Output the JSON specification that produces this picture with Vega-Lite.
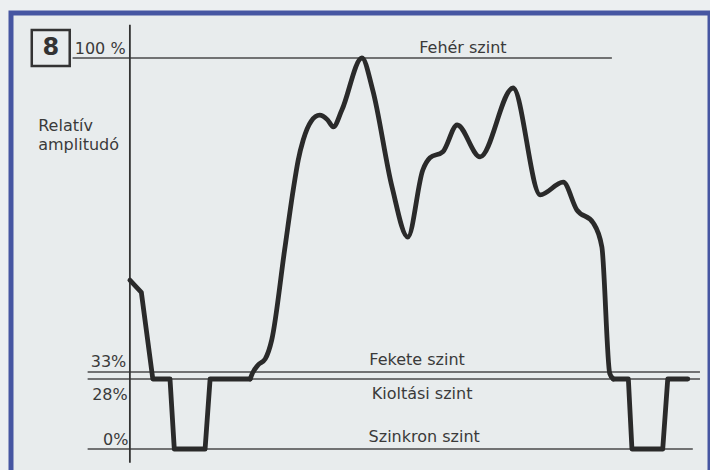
{
  "$schema": "https://vega.github.io/schema/vega-lite/v6.json",
  "autosize": {"type": "none"},
  "padding": {"left": 11, "top": 13, "right": 0, "bottom": 0},
  "width": 699,
  "height": 470,
  "background": "#eceff1",
  "config": {
    "view": {"stroke": "#4656a2", "strokeWidth": 5, "fill": "#e8eced"},
    "text": {"font": "DejaVu Sans", "fontSize": 16, "color": "#3a3a3a"}
  },
  "datasets": {
    "pulses": [
      {"t": 0, "v": 52.6, "seg": "A"},
      {"t": 1.6, "v": 50.0, "seg": "A"},
      {"t": 3.2, "v": 28, "seg": "A"},
      {"t": 5.6, "v": 28, "seg": "A"},
      {"t": 6.2, "v": 0, "seg": "A"},
      {"t": 10.5, "v": 0, "seg": "A"},
      {"t": 11.2, "v": 28, "seg": "A"},
      {"t": 16.8, "v": 28, "seg": "A"},
      {"t": 67.5, "v": 28, "seg": "C"},
      {"t": 69.6, "v": 28, "seg": "C"},
      {"t": 70.1, "v": 0, "seg": "C"},
      {"t": 74.4, "v": 0, "seg": "C"},
      {"t": 75.1, "v": 28, "seg": "C"},
      {"t": 77.9, "v": 28, "seg": "C"}
    ],
    "video": [
      {"t": 16.8, "v": 28},
      {"t": 17.1, "v": 32},
      {"t": 17.9, "v": 34.5},
      {"t": 18.9, "v": 35.8},
      {"t": 19.8, "v": 39.8},
      {"t": 21.6, "v": 59.0},
      {"t": 22.8, "v": 71.8},
      {"t": 23.5, "v": 78.2},
      {"t": 24.2, "v": 82.5},
      {"t": 25.3, "v": 86.5},
      {"t": 26.5, "v": 87.8},
      {"t": 27.6, "v": 86.8},
      {"t": 28.4, "v": 85.3},
      {"t": 29.6, "v": 88.9},
      {"t": 32.4, "v": 100},
      {"t": 33.9, "v": 93.2},
      {"t": 36.6, "v": 72.5},
      {"t": 38.8, "v": 61.8},
      {"t": 40.9, "v": 76.1},
      {"t": 41.9, "v": 78.7},
      {"t": 43.7, "v": 80.0},
      {"t": 45.7, "v": 85.7},
      {"t": 48.9, "v": 78.9},
      {"t": 53.5, "v": 93.6},
      {"t": 57.3, "v": 70.8},
      {"t": 60.5, "v": 73.5},
      {"t": 62.4, "v": 67.6},
      {"t": 64.7, "v": 64.8},
      {"t": 65.9, "v": 59.7},
      {"t": 67.0, "v": 32},
      {"t": 67.5, "v": 28}
    ],
    "levels": [
      {"x1": -8.0, "x2": 67.3, "v": 100},
      {"x1": -5.9, "x2": 79.6, "v": 33},
      {"x1": -5.9, "x2": 79.6, "v": 28},
      {"x1": -5.9, "x2": 78.6, "v": 0}
    ],
    "axisline": [{"t": 0, "v1": -5.5, "v2": 107.1}],
    "box": [{"x1": -13.7, "x2": -8.4, "v1": 106.0, "v2": 98.3, "label": "8", "xc": -11.05, "vc": 102.1}],
    "rightLabels": [
      {"t": -0.6, "v": 100.9, "text": "100 %"},
      {"t": -0.5, "v": 34.1, "text": "33%"},
      {"t": -0.3, "v": 19.7, "text": "28%"},
      {"t": -0.2, "v": 1.6, "text": "0%"}
    ],
    "leftLabels": [
      {"t": -12.8, "v": 84.4, "text": "Relatív\namplitudó"}
    ],
    "levelNames": [
      {"t": 46.5, "v": 101.1, "text": "Fehér szint"},
      {"t": 40.1, "v": 34.5, "text": "Fekete szint"},
      {"t": 40.8, "v": 20.1, "text": "Kioltási szint"},
      {"t": 41.1, "v": 2.8, "text": "Szinkron szint"}
    ]
  },
  "layer": [
    {
      "data": {"name": "levels"},
      "mark": {"type": "rule", "color": "#4a4a4a", "strokeWidth": 1.5},
      "encoding": {
        "x": {"field": "x1", "type": "quantitative", "scale": {"domain": [-16.6, 81.0], "nice": false, "zero": false}, "axis": null},
        "x2": {"field": "x2"},
        "y": {"field": "v", "type": "quantitative", "scale": {"domain": [0, 28, 33, 100], "range": [436, 366, 359, 45], "nice": false, "zero": false}, "axis": null}
      }
    },
    {
      "data": {"name": "axisline"},
      "mark": {"type": "rule", "color": "#333333", "strokeWidth": 1.8},
      "encoding": {
        "x": {"field": "t", "type": "quantitative"},
        "y": {"field": "v1", "type": "quantitative"},
        "y2": {"field": "v2"}
      }
    },
    {
      "data": {"name": "pulses"},
      "mark": {"type": "line", "color": "#2a2a2a", "strokeWidth": 4.8, "strokeJoin": "round", "strokeCap": "round"},
      "encoding": {
        "x": {"field": "t", "type": "quantitative"},
        "y": {"field": "v", "type": "quantitative"},
        "detail": {"field": "seg"}
      }
    },
    {
      "data": {"name": "video"},
      "mark": {"type": "line", "color": "#2a2a2a", "strokeWidth": 4.8, "strokeJoin": "round", "strokeCap": "round", "interpolate": "monotone"},
      "encoding": {
        "x": {"field": "t", "type": "quantitative"},
        "y": {"field": "v", "type": "quantitative"}
      }
    },
    {
      "data": {"name": "box"},
      "mark": {"type": "rect", "fill": null, "stroke": "#333333", "strokeWidth": 2.5},
      "encoding": {
        "x": {"field": "x1", "type": "quantitative"},
        "x2": {"field": "x2"},
        "y": {"field": "v1", "type": "quantitative"},
        "y2": {"field": "v2"}
      }
    },
    {
      "data": {"name": "box"},
      "mark": {"type": "text", "fontSize": 24, "fontWeight": "bold", "font": "DejaVu Sans", "align": "center", "baseline": "middle", "color": "#333333"},
      "encoding": {
        "x": {"field": "xc", "type": "quantitative"},
        "y": {"field": "vc", "type": "quantitative"},
        "text": {"field": "label"}
      }
    },
    {
      "data": {"name": "rightLabels"},
      "mark": {"type": "text", "align": "right", "baseline": "alphabetic"},
      "encoding": {
        "x": {"field": "t", "type": "quantitative"},
        "y": {"field": "v", "type": "quantitative"},
        "text": {"field": "text"}
      }
    },
    {
      "data": {"name": "leftLabels"},
      "mark": {"type": "text", "align": "left", "baseline": "alphabetic", "lineBreak": "\n", "lineHeight": 19},
      "encoding": {
        "x": {"field": "t", "type": "quantitative"},
        "y": {"field": "v", "type": "quantitative"},
        "text": {"field": "text"}
      }
    },
    {
      "data": {"name": "levelNames"},
      "mark": {"type": "text", "align": "center", "baseline": "alphabetic"},
      "encoding": {
        "x": {"field": "t", "type": "quantitative"},
        "y": {"field": "v", "type": "quantitative"},
        "text": {"field": "text"}
      }
    }
  ]
}
